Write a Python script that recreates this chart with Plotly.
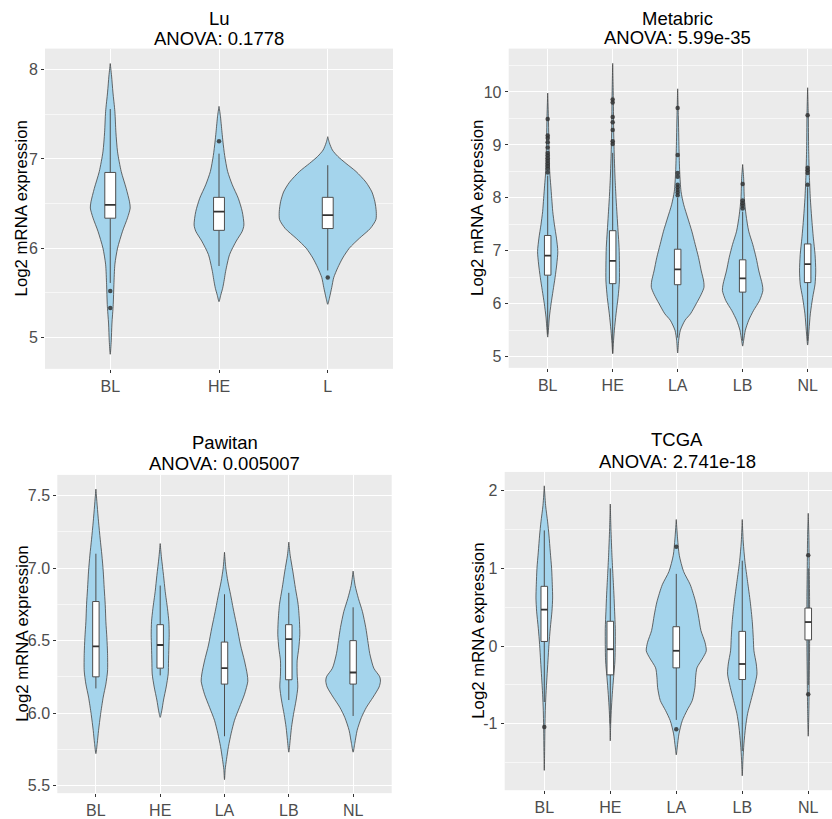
import plotly.graph_objects as go

# ---------------- DATA ----------------
# Panel titles
TITLES = ["Lu", "Metabric", "Pawitan", "TCGA"]
ANOVA = ["ANOVA: 0.1778", "ANOVA: 5.99e-35", "ANOVA: 0.005007", "ANOVA: 2.741e-18"]

# Lu
LU_CATS = ["BL", "HE", "L"]
LU_VY = [
    [4.81, 4.96, 5.15, 5.37, 5.59, 5.82, 6.00, 6.19, 6.34, 6.45, 6.52, 6.67, 6.86, 7.08, 7.30, 7.53, 7.75, 7.93, 8.07],
    [5.40, 5.47, 5.55, 5.65, 5.74, 5.93, 6.08, 6.19, 6.26, 6.41, 6.56, 6.71, 6.86, 7.04, 7.19, 7.30, 7.49, 7.59],
    [5.37, 5.44, 5.56, 5.67, 5.78, 5.89, 6.00, 6.11, 6.22, 6.32, 6.41, 6.52, 6.63, 6.74, 6.86, 6.95, 7.03, 7.10, 7.18, 7.25],
]
LU_VD = [
    [0, 3, 5, 9, 11, 14, 22, 37, 52, 60, 58, 48, 33, 22, 17, 14, 8, 4, 0],
    [0, 5, 11, 16, 20, 32, 52, 70, 75, 70, 58, 40, 26, 17, 12, 9, 4, 0],
    [0, 5, 12, 18, 30, 45, 65, 95, 128, 145, 146, 142, 133, 115, 85, 55, 30, 14, 5, 0],
]
LU_Q1 = [6.336, 6.20, 6.22]
LU_MED = [6.485, 6.41, 6.37]
LU_Q3 = [6.849, 6.57, 6.57]
LU_LO = [5.61, 5.80, 5.75]
LU_HI = [7.56, 7.06, 6.93]
LU_OUT_CAT = ["BL", "BL", "HE", "L"]
LU_OUT_Y = [5.52, 5.33, 7.20, 5.67]

# Metabric
MB_CATS = ["BL", "HE", "LA", "LB", "NL"]
MB_VY = [
    [5.37, 5.50, 5.75, 6.00, 6.25, 6.50, 6.75, 6.99, 7.24, 7.49, 7.74, 7.99, 8.24, 8.49, 8.93, 9.55, 9.98],
    [5.06, 5.25, 5.50, 5.81, 6.12, 6.43, 6.75, 7.06, 7.37, 7.68, 7.99, 8.37, 8.74, 9.24, 9.86, 10.54],
    [5.07, 5.31, 5.50, 5.69, 5.81, 6.00, 6.18, 6.31, 6.43, 6.62, 6.87, 7.12, 7.37, 7.62, 7.87, 8.12, 8.49, 8.93, 9.55, 10.06],
    [5.20, 5.31, 5.50, 5.69, 5.87, 6.06, 6.25, 6.37, 6.62, 6.87, 7.12, 7.37, 7.68, 7.99, 8.37, 8.63],
    [5.22, 5.50, 5.81, 6.12, 6.37, 6.62, 6.93, 7.24, 7.62, 7.99, 8.43, 8.93, 9.55, 10.08],
]
MB_VD = [
    [0, 2, 5, 10, 16, 22, 27, 30, 26, 20, 15, 12, 9, 6, 4, 2, 0],
    [0, 2, 5, 10, 16, 20, 20, 19, 16, 13, 10, 7, 5, 3, 2, 0],
    [0, 3, 8, 22, 38, 55, 70, 78, 77, 70, 62, 52, 42, 30, 18, 10, 6, 4, 2, 0],
    [0, 3, 8, 18, 32, 50, 60, 58, 48, 40, 30, 18, 10, 5, 3, 0],
    [0, 4, 8, 15, 22, 24, 22, 17, 12, 8, 5, 3, 2, 0],
]
MB_Q1 = [6.54, 6.38, 6.36, 6.22, 6.40]
MB_MED = [6.91, 6.81, 6.65, 6.48, 6.75]
MB_Q3 = [7.29, 7.38, 7.03, 6.83, 7.13]
MB_LO = [5.42, 5.06, 5.36, 5.30, 5.30]
MB_HI = [8.42, 8.85, 8.00, 7.74, 8.20]
MB_OUT_CAT = (["BL"] * 13) + (["HE"] * 7) + (["LA"] * 9) + (["LB"] * 5) + (["NL"] * 5)
MB_OUT_Y = [9.49, 9.18, 9.13, 9.05, 8.95, 8.85, 8.80, 8.75, 8.70, 8.65, 8.60, 8.55, 8.48,
            9.86, 9.80, 9.53, 9.43, 9.28, 9.07, 9.02,
            9.70, 8.81, 8.47, 8.40, 8.25, 8.20, 8.15, 8.10, 8.05,
            8.26, 7.95, 7.90, 7.85, 7.80,
            9.56, 8.57, 8.52, 8.47, 8.25]

# Pawitan
PW_CATS = ["BL", "HE", "LA", "LB", "NL"]
PW_VY = [
    [5.72, 5.79, 5.88, 5.99, 6.11, 6.20, 6.29, 6.41, 6.52, 6.63, 6.75, 6.86, 6.98, 7.09, 7.20, 7.32, 7.43, 7.546],
    [5.97, 6.02, 6.09, 6.18, 6.27, 6.36, 6.45, 6.54, 6.63, 6.72, 6.84, 6.95, 7.07, 7.17],
    [5.54, 5.61, 5.68, 5.77, 5.86, 5.95, 6.04, 6.13, 6.22, 6.27, 6.36, 6.47, 6.59, 6.70, 6.82, 6.91, 7.00, 7.11],
    [5.73, 5.81, 5.90, 5.99, 6.09, 6.18, 6.27, 6.36, 6.45, 6.54, 6.63, 6.75, 6.86, 6.98, 7.09, 7.18],
    [5.73, 5.79, 5.88, 5.97, 6.04, 6.11, 6.18, 6.22, 6.25, 6.31, 6.41, 6.50, 6.59, 6.70, 6.79, 6.88, 6.98],
]
PW_VD = [
    [0, 4, 8, 14, 22, 30, 35, 35, 33, 30, 28, 25, 22, 18, 13, 8, 4, 0],
    [0, 5, 10, 18, 24, 25, 26, 27, 26, 22, 15, 10, 4, 0],
    [0, 2, 6, 12, 20, 30, 45, 60, 70, 68, 60, 48, 38, 28, 18, 10, 4, 0],
    [0, 4, 8, 14, 22, 27, 25, 25, 30, 33, 32, 28, 20, 12, 4, 0],
    [0, 5, 12, 25, 40, 60, 78, 82, 80, 62, 50, 44, 38, 28, 16, 6, 0],
]
PW_Q1 = [6.25, 6.31, 6.20, 6.23, 6.20]
PW_MED = [6.46, 6.47, 6.31, 6.51, 6.28]
PW_Q3 = [6.77, 6.61, 6.49, 6.61, 6.50]
PW_LO = [6.17, 6.26, 5.84, 6.09, 5.98]
PW_HI = [7.10, 6.88, 6.82, 6.83, 6.73]
PW_OUT_CAT = []
PW_OUT_Y = []

# TCGA
TC_CATS = ["BL", "HE", "LA", "LB", "NL"]
TC_VY = [
    [-1.60, -1.04, -0.83, -0.62, -0.40, -0.19, 0.02, 0.23, 0.45, 0.62, 0.79, 1.00, 1.21, 1.43, 1.60, 1.81, 2.064],
    [-1.22, -1.04, -0.83, -0.62, -0.40, -0.19, 0.02, 0.23, 0.45, 0.66, 0.91, 1.17, 1.51, 1.83],
    [-1.40, -1.30, -1.13, -0.96, -0.83, -0.70, -0.53, -0.40, -0.28, -0.15, -0.06, 0.05, 0.20, 0.40, 0.57, 0.79, 0.96, 1.17, 1.38, 1.63],
    [-1.67, -1.47, -1.26, -1.04, -0.87, -0.70, -0.53, -0.36, -0.23, -0.06, 0.11, 0.32, 0.57, 0.83, 1.09, 1.34, 1.63],
    [-1.16, -0.80, -0.40, 0.00, 0.30, 0.60, 1.00, 1.40, 1.71],
]
TC_VD = [
    [0, 2, 3, 5, 8, 11, 14, 18, 23, 25, 24, 22, 18, 14, 10, 4, 0],
    [0, 1, 3, 6, 10, 14, 15, 15, 13, 11, 8, 5, 2, 0],
    [0, 3, 8, 18, 32, 48, 56, 58, 62, 80, 90, 86, 74, 66, 58, 42, 22, 9, 4, 0],
    [0, 2, 5, 10, 16, 26, 36, 44, 42, 35, 33, 30, 24, 16, 8, 3, 0],
    [0, 2, 3, 4, 4, 4, 3, 2, 0],
]
TC_Q1 = [0.06, -0.37, -0.28, -0.43, 0.08]
TC_MED = [0.47, -0.04, -0.06, -0.23, 0.31]
TC_Q3 = [0.77, 0.32, 0.25, 0.19, 0.49]
TC_LO = [-0.72, -1.00, -0.95, -1.35, -0.50]
TC_HI = [1.49, 1.00, 0.93, 1.10, 1.00]
TC_OUT_CAT = ["BL", "LA", "LA", "NL", "NL"]
TC_OUT_Y = [-1.04, 1.28, -1.07, 1.17, -0.62]

# Y tick labels
LU_YTICKS = ["5", "6", "7", "8"]
MB_YTICKS = ["5", "6", "7", "8", "9", "10"]
PW_YTICKS = ["5.5", "6.0", "6.5", "7.0", "7.5"]
TC_YTICKS = ["-1", "0", "1", "2"]

# ---------------- STYLE / LAYOUT ----------------
FONT = "Liberation Sans, Arial, Helvetica, sans-serif"
VFILL = "#A4D4EC"
VLINE = "#444444"
DARK = "#333333"
WHISK = "#4d4d4d"
BG = "#EBEBEB"
W, H = 832, 819
BOX_HALF = 0.05
TICK_SIZE = 16

panels = [
    dict(cats=LU_CATS, vy=LU_VY, vd=LU_VD, q1=LU_Q1, med=LU_MED, q3=LU_Q3, lo=LU_LO, hi=LU_HI,
         oc=LU_OUT_CAT, oy=LU_OUT_Y, yt=LU_YTICKS, maxhw=0.446,
         px=(45, 393), py=(49, 372), xr=[0.4, 3.6], yr=[4.647, 8.238], minor=0.5, tcx=219,
         ty=(18.3, 38.5), ytx=21.7),
    dict(cats=MB_CATS, vy=MB_VY, vd=MB_VD, q1=MB_Q1, med=MB_MED, q3=MB_Q3, lo=MB_LO, hi=MB_HI,
         oc=MB_OUT_CAT, oy=MB_OUT_Y, yt=MB_YTICKS, maxhw=0.405,
         px=(508.7, 832), py=(49, 371), xr=[0.4, 5.375], yr=[4.79, 10.82], minor=0.5, tcx=677.7,
         ty=(18.3, 38.3), ytx=477.7),
    dict(cats=PW_CATS, vy=PW_VY, vd=PW_VD, q1=PW_Q1, med=PW_MED, q3=PW_Q3, lo=PW_LO, hi=PW_HI,
         oc=PW_OUT_CAT, oy=PW_OUT_Y, yt=PW_YTICKS, maxhw=0.425,
         px=(57.3, 391.7), py=(479, 800), xr=[0.4, 5.6], yr=[5.447, 7.644], minor=0.25, tcx=224.5,
         ty=(446.7, 467.5), ytx=21.7),
    dict(cats=TC_CATS, vy=TC_VY, vd=TC_VD, q1=TC_Q1, med=TC_MED, q3=TC_Q3, lo=TC_LO, hi=TC_HI,
         oc=TC_OUT_CAT, oy=TC_OUT_Y, yt=TC_YTICKS, maxhw=0.455,
         px=(504.7, 832), py=(476, 797), xr=[0.4, 5.36], yr=[-1.855, 2.243], minor=0.5, tcx=677,
         ty=(443.3, 465.3), ytx=477.7),
]

fig = go.Figure()
layout = dict(width=W, height=H, margin=dict(l=0, r=0, t=0, b=0),
              paper_bgcolor="white", plot_bgcolor=BG, showlegend=False,
              font=dict(family=FONT, color="#000000"))
annotations = []

for i, p in enumerate(panels, start=1):
    sfx = "" if i == 1 else str(i)
    xref, yref = "x" + sfx, "y" + sfx
    pos = {c: k + 1 for k, c in enumerate(p["cats"])}
    dmax = max(max(d) for d in p["vd"])
    scale = p["maxhw"] / dmax
    xs_box = list(range(1, len(p["cats"]) + 1))

    # violins
    for k, (ys, ds) in enumerate(zip(p["vy"], p["vd"])):
        c = k + 1
        xs = [c + d * scale for d in ds] + [c - d * scale for d in ds[::-1]]
        yy = list(ys) + list(ys[::-1])
        fig.add_trace(go.Scatter(x=xs, y=yy, mode="lines", fill="toself", fillcolor=VFILL,
                                 line=dict(color=VLINE, width=0.8, shape="spline", smoothing=0.7),
                                 hoverinfo="skip", xaxis=xref, yaxis=yref))
    # whiskers
    wx, wy = [], []
    for c, q1, q3, lo, hi in zip(xs_box, p["q1"], p["q3"], p["lo"], p["hi"]):
        wx += [c, c, None, c, c, None]
        wy += [q3, hi, None, q1, lo, None]
    fig.add_trace(go.Scatter(x=wx, y=wy, mode="lines", line=dict(color=WHISK, width=1),
                             hoverinfo="skip", xaxis=xref, yaxis=yref))
    # boxes
    bx, by = [], []
    for c, q1, q3 in zip(xs_box, p["q1"], p["q3"]):
        bx += [c - BOX_HALF, c + BOX_HALF, c + BOX_HALF, c - BOX_HALF, c - BOX_HALF, None]
        by += [q1, q1, q3, q3, q1, None]
    fig.add_trace(go.Scatter(x=bx, y=by, mode="lines", fill="toself", fillcolor="white",
                             line=dict(color=WHISK, width=1), hoverinfo="skip",
                             xaxis=xref, yaxis=yref))
    # medians
    mx, my = [], []
    for c, m in zip(xs_box, p["med"]):
        mx += [c - BOX_HALF, c + BOX_HALF, None]
        my += [m, m, None]
    fig.add_trace(go.Scatter(x=mx, y=my, mode="lines", line=dict(color=DARK, width=1.8),
                             hoverinfo="skip", xaxis=xref, yaxis=yref))
    # outliers
    if p["oy"]:
        fig.add_trace(go.Scatter(x=[pos[c] for c in p["oc"]], y=p["oy"], mode="markers",
                                 marker=dict(color=DARK, size=4.5, opacity=0.85),
                                 hoverinfo="skip", xaxis=xref, yaxis=yref))

    # axes
    ytv = [float(t) for t in p["yt"]]
    layout["xaxis" + sfx] = dict(
        domain=[p["px"][0] / W, p["px"][1] / W], range=p["xr"], anchor=yref,
        tickmode="array", tickvals=xs_box, ticktext=p["cats"],
        showgrid=True, gridcolor="white", gridwidth=1.1, zeroline=False,
        ticks="outside", ticklen=3, tickcolor=DARK, tickwidth=1,
        tickfont=dict(size=TICK_SIZE, color="#4D4D4D", family=FONT), showline=False, fixedrange=True)
    layout["yaxis" + sfx] = dict(
        domain=[1 - p["py"][1] / H, 1 - p["py"][0] / H], range=p["yr"], anchor=xref,
        tickmode="array", tickvals=ytv, ticktext=p["yt"],
        showgrid=True, gridcolor="white", gridwidth=1.1, zeroline=False,
        minor=dict(tickmode="linear", tick0=0, dtick=p["minor"], showgrid=True,
                   gridcolor="#F7F7F7", gridwidth=0.6, ticks=""),
        ticks="outside", ticklen=3, tickcolor=DARK, tickwidth=1,
        tickfont=dict(size=TICK_SIZE, color="#4D4D4D", family=FONT), showline=False, fixedrange=True)

    # titles
    annotations.append(dict(text=TITLES[i - 1], x=p["tcx"] / W, y=1 - p["ty"][0] / H,
                            xref="paper", yref="paper", xanchor="center", yanchor="middle",
                            showarrow=False, font=dict(size=18.5, color="#000000", family=FONT)))
    annotations.append(dict(text=ANOVA[i - 1], x=p["tcx"] / W, y=1 - p["ty"][1] / H,
                            xref="paper", yref="paper", xanchor="center", yanchor="middle",
                            showarrow=False, font=dict(size=18.5, color="#000000", family=FONT)))
    annotations.append(dict(text="Log2 mRNA expression", x=p["ytx"] / W,
                            y=1 - (p["py"][0] + p["py"][1]) / 2 / H,
                            xref="paper", yref="paper", xanchor="center", yanchor="middle",
                            textangle=-90, showarrow=False,
                            font=dict(size=16.8, color="#000000", family=FONT)))

layout["annotations"] = annotations
fig.update_layout(**layout)
fig.write_html("out.html", config={"displayModeBar": False},
               post_script="document.body.style.margin='0';document.body.style.overflow='hidden';")
